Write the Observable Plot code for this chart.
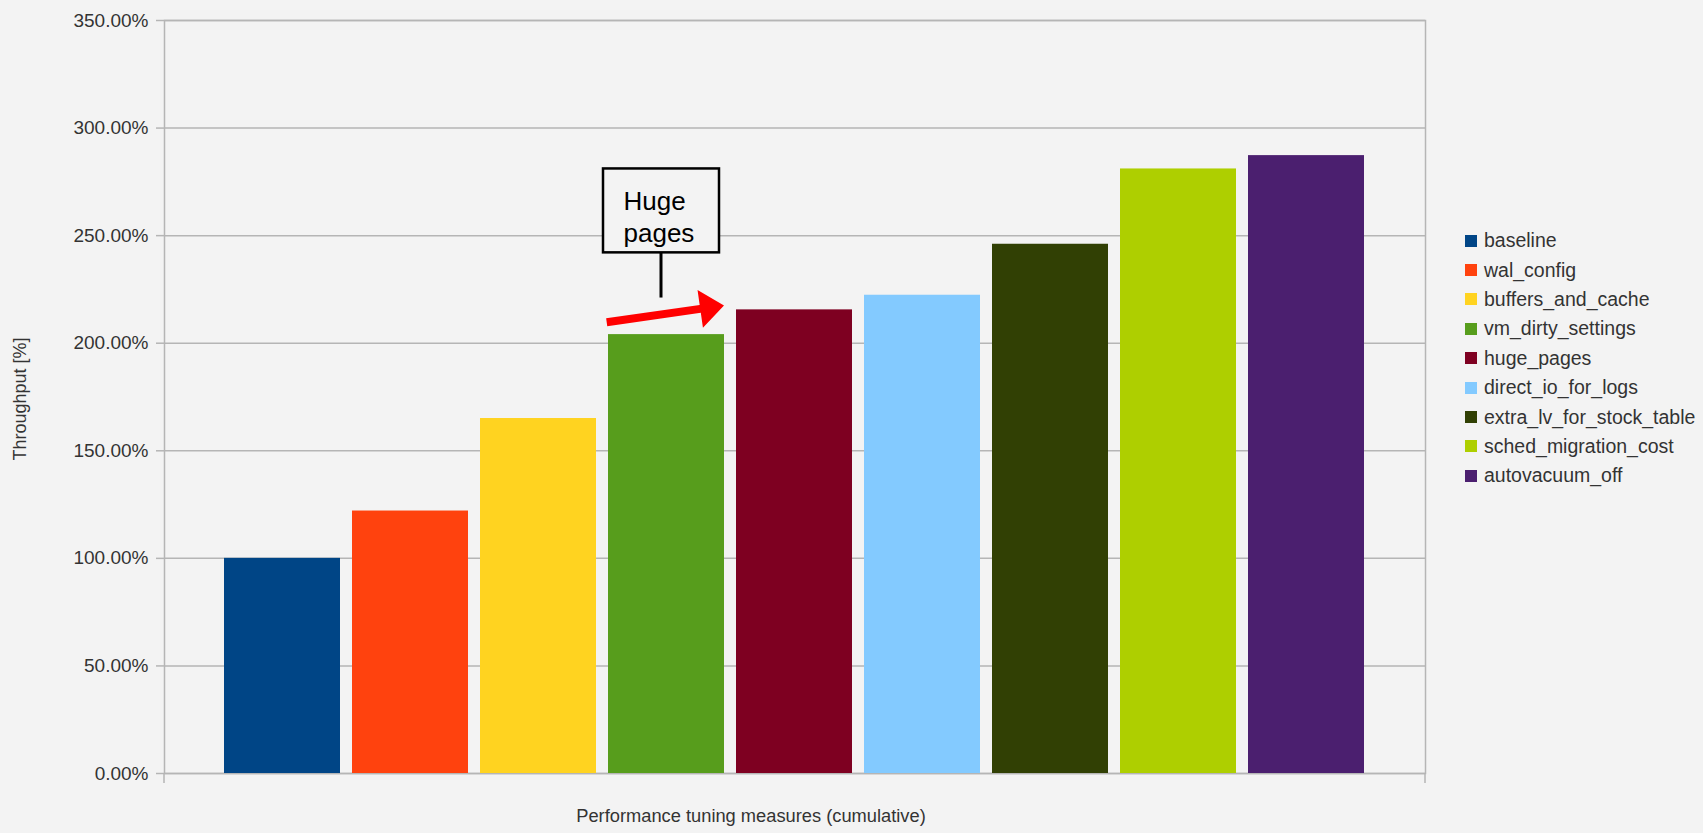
<!DOCTYPE html>
<html>
<head>
<meta charset="utf-8">
<script src="https://cdn.jsdelivr.net/npm/d3@7"></script>
<script src="https://cdn.jsdelivr.net/npm/@observablehq/plot@0.6"></script>
<style>
  html, body { margin: 0; padding: 0; background: #f3f3f3; }
  #wrap { position: relative; width: 1703px; height: 833px; font-family: "Liberation Sans", Arial, sans-serif; }
  #legend { position: absolute; left: 1465px; top: 226px; color: #333; font-size: 19.5px; }
  #legend .row { display: flex; align-items: center; height: 29.4px; }
  #legend .sw { width: 12px; height: 12px; margin-right: 7px; flex: none; }
</style>
</head>
<body>
<div id="wrap"></div>
<script>
// ---- data ----
const measures = ["baseline", "wal_config", "buffers_and_cache", "vm_dirty_settings", "huge_pages",
  "direct_io_for_logs", "extra_lv_for_stock_table", "sched_migration_cost", "autovacuum_off"];
const throughput = [100, 122, 165, 204, 215.5, 222.3, 246, 281, 287.2];
const colors = ["#004586", "#ff420e", "#ffd320", "#579d1c", "#7e0021", "#83caff", "#314004", "#aecf00", "#4b1f6f"];
const yTicks = [0, 50, 100, 150, 200, 250, 300, 350];
const xTitle = "Performance tuning measures (cumulative)";
const yTitle = "Throughput [%]";
const noteLines = ["Huge", "pages"];
const noteTarget = "vm_dirty_settings";
const noteBox = [242, 281];      // y-range of callout box (%)
const noteLeader = [242, 221];   // leader line (%)
const noteArrow = [209.5, 217.3]; // red arrow tail / tip (%)

const data = measures.map((m, i) => ({measure: m, value: throughput[i]}));
const bg = "#f3f3f3";
const gridColor = "#b5b5b5";
const fmt = d => d.toFixed(2) + "%";

const chart = Plot.plot({
  width: 1703,
  height: 833,
  marginLeft: 164,
  marginRight: 278,
  marginTop: 20,
  marginBottom: 60,
  style: {background: bg, fontFamily: "Liberation Sans, Arial, sans-serif", fontSize: "19px", color: "#333", overflow: "visible"},
  x: {domain: measures, paddingInner: 0.09, paddingOuter: 0.45, axis: null},
  y: {domain: [0, 350], ticks: yTicks, label: null},
  color: {domain: measures, range: colors},
  marks: [
    Plot.gridY(yTicks, {stroke: gridColor, strokeOpacity: 1, strokeWidth: 1.5}),
    Plot.frame({stroke: gridColor, strokeWidth: 1.5}),
    Plot.axisY(yTicks, {tickSize: 8, tickPadding: 8, tickFormat: fmt, stroke: gridColor, strokeWidth: 1.5, label: null, fill: "#333", fontSize: 19}),
    Plot.barY(data, {x: "measure", y: "value", fill: "measure"}),
    Plot.barY([noteTarget], {x: d => d, y1: noteBox[0], y2: noteBox[1], fill: bg, stroke: "#000", strokeWidth: 2.5, dx: -5}),
    Plot.text([noteLines.join("\n")], {x: [noteTarget], y: [noteBox[1] - 8.6], text: d => d, textAnchor: "start", lineAnchor: "top", lineHeight: 1.23, dx: -43, fontSize: 26, fill: "#000"}),
    Plot.text([yTitle], {frameAnchor: "left", textAnchor: "middle", rotate: -90, dx: -144, dy: 2, fontSize: 18, fill: "#333"}),
    Plot.text([xTitle], {frameAnchor: "bottom", textAnchor: "middle", dy: 48, dx: -44, fontSize: 18.3, fill: "#333"})
  ]
});

document.getElementById("wrap").appendChild(chart);

// ---- annotations positioned through the chart's own scales ----
const xs = chart.scale("x"), ys = chart.scale("y");
const bandStart = v => xs.apply(v);
const bw = xs.bandwidth;
const svg = d3.select(chart);
const g = svg.append("g");

// leader line
const lx = bandStart(noteTarget) + bw / 2 - 5;
g.append("line").attr("x1", lx).attr("x2", lx)
  .attr("y1", ys.apply(noteLeader[0])).attr("y2", ys.apply(noteLeader[1]))
  .attr("stroke", "#000").attr("stroke-width", 3);

// red arrow
const x0 = bandStart(noteTarget) - 1.3, y0 = ys.apply(noteArrow[0]);
const x1 = bandStart(noteTarget) + bw, y1 = ys.apply(noteArrow[1]);
const ang = Math.atan2(y1 - y0, x1 - x0);
const L = Math.hypot(x1 - x0, y1 - y0);
const headLen = 24, headHalf = 19, shaftHalf = 4;
const pts = [[0, -shaftHalf], [L - headLen, -shaftHalf], [L - headLen, -headHalf], [L, 0], [L - headLen, headHalf], [L - headLen, shaftHalf], [0, shaftHalf]]
  .map(([u, v]) => [x0 + u * Math.cos(ang) - v * Math.sin(ang), y0 + u * Math.sin(ang) + v * Math.cos(ang)]);
g.append("polygon").attr("points", pts.map(p => p.join(",")).join(" ")).attr("fill", "#ff0000");

// category boundary ticks below the x axis
const yZero = ys.apply(0);
for (const xx of xs.range) {
  g.append("line").attr("x1", xx).attr("x2", xx).attr("y1", yZero).attr("y2", yZero + 10)
    .attr("stroke", gridColor).attr("stroke-width", 1.5);
}

// legend built from the color scale
const cs = chart.scale("color");
const legend = d3.select("#wrap").append("div").attr("id", "legend");
cs.domain.forEach((d, i) => {
  const row = legend.append("div").attr("class", "row");
  row.append("div").attr("class", "sw").style("background", cs.range[i]);
  row.append("span").text(d);
});
</script>
</body>
</html>
